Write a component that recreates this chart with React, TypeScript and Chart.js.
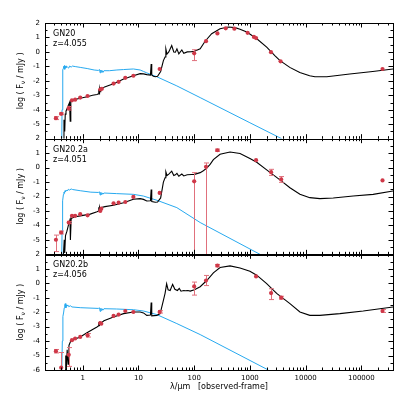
import React, { useEffect, useRef } from "react";
import { Chart, registerables } from "chart.js";

Chart.register(...registerables);

type Pt = [number, number];
type Phot = [number, number, number, number]; // [lambda um, log F, errLo, errHi]

// ---------- axis ranges ----------
const X_MIN = 0.21;
const X_MAX = 3.7e5;
const Y_MIN = -6;
const Y_MAX = 2;
const xMajorTicks = [1, 10, 100, 1000, 10000, 100000];
const yMajorTicks = [-6, -5, -4, -3, -2, -1, 0, 1, 2];

// ---------- labels ----------
const panelNames = ["GN20", "GN20.2a", "GN20.2b"];
const panelRedshifts = ["z=4.055", "z=4.051", "z=4.056"];
const yTitleParts = ["log ( F", "\u03BD", " / mJy )"]; // text, subscript, text
const xTitle = "\u03BB/\u00B5m   [observed-frame]";

// ---------- best-fit total models (black) ----------
const gn20Model: Pt[] = [
  [0.45, -6.0], [0.46, -4.7], [0.475, -5.5], [0.485, -4.3], [0.5, -4.1], [0.52, -3.95], [0.55, -3.7],
  [0.58, -3.5], [0.595, -4.8], [0.61, -3.4], [0.66, -3.33], [0.75, -3.28], [0.9, -3.2], [1.2, -3.1],
  [1.5, -3.0], [1.8, -2.95], [1.92, -2.9], [1.94, -2.6], [1.97, -2.9], [2.0, -2.55], [2.05, -2.75],
  [2.1, -2.5], [2.4, -2.45], [3.0, -2.3], [3.6, -2.2], [5.4, -1.88], [8.1, -1.65], [10.7, -1.5],
  [12.3, -1.52], [14.1, -1.57], [16.4, -1.6], [16.9, -0.83], [17.3, -1.6], [18.5, -1.68], [20, -1.72],
  [22, -1.68], [25, -1.35], [28, -0.6], [30, -0.35], [31, 0.21], [32.5, -0.15], [35, 0.0], [39.5, 0.44],
  [43, 0.0], [46, -0.02], [49, 0.21], [53, -0.14], [60, 0.14], [65, -0.09], [75, 0.0], [90, 0.02],
  [101, 0.05], [128, 0.21], [157, 0.74], [206, 1.26], [291, 1.6], [410, 1.72], [540, 1.68], [665, 1.57],
  [880, 1.37], [1330, 0.91], [2000, 0.33], [2800, -0.25], [3470, -0.6], [5200, -1.07], [7860, -1.42],
  [11800, -1.65], [14700, -1.72], [24000, -1.72], [62000, -1.53], [160000, -1.35], [370000, -1.18],
];
const gn20aModel: Pt[] = [
  [0.45, -6.0], [0.465, -5.0], [0.475, -5.9], [0.49, -4.7], [0.52, -4.4], [0.56, -3.9], [0.59, -3.6],
  [0.6, -5.0], [0.62, -3.53], [0.7, -3.42], [0.9, -3.34], [1.36, -3.22], [1.8, -3.05], [1.92, -3.0],
  [1.94, -2.75], [1.97, -3.0], [2.0, -2.75], [2.05, -2.9], [2.1, -2.77], [2.5, -2.7], [3.56, -2.6],
  [5.4, -2.43], [8.1, -2.19], [10.7, -2.15], [12.3, -2.2], [14.1, -2.31], [16.4, -2.3], [16.9, -1.51],
  [17.3, -2.35], [20, -2.4], [22, -2.38], [25, -2.1], [28, -1.0], [30, -0.7], [31, -0.3], [32.5, -0.55],
  [35, -0.45], [39.5, -0.25], [43, -0.55], [46, -0.5], [49, -0.4], [53, -0.6], [60, -0.45], [65, -0.58],
  [75, -0.5], [90, -0.48], [101, -0.47], [128, -0.35], [146, -0.22], [168, -0.04], [193, 0.22],
  [221, 0.55], [291, 0.92], [440, 1.08], [665, 0.97], [1000, 0.63], [1325, 0.37], [2000, -0.16],
  [3460, -0.85], [5230, -1.39], [7900, -1.85], [11900, -2.08], [18000, -2.15], [31300, -2.1],
  [71300, -1.97], [163000, -1.85], [370000, -1.62],
];
const gn20bModel: Pt[] = [
  [0.48, -6.0], [0.495, -5.0], [0.505, -6.0], [0.525, -4.6], [0.545, -5.6], [0.565, -4.3], [0.6, -4.05],
  [0.64, -3.94], [0.9, -3.71], [1.19, -3.43], [1.5, -3.2], [1.8, -3.02], [1.92, -2.95], [1.94, -2.7],
  [1.97, -2.92], [2.0, -2.72], [2.06, -2.8], [2.4, -2.6], [3.56, -2.33], [5.4, -2.1], [8.1, -1.99],
  [10.7, -1.99], [12.3, -2.05], [14.1, -2.22], [16.4, -2.2], [16.9, -1.34], [17.3, -2.25], [21.4, -2.22],
  [24.5, -2.1], [28, -1.18], [30, -0.7], [32, -0.04], [34, -0.45], [37, -0.5], [41, -0.08], [45, -0.42],
  [50, -0.5], [54, -0.36], [58, -0.55], [65, -0.5], [69, -0.52], [77, -0.5], [85, -0.54], [101, -0.45],
  [128, -0.24], [168, 0.19], [221, 0.72], [291, 1.09], [440, 1.2], [665, 1.06], [1000, 0.83],
  [1325, 0.56], [2000, -0.02], [3020, -0.7], [5230, -1.41], [7900, -1.99], [11900, -2.22],
  [18000, -2.22], [41200, -2.1], [108000, -1.92], [370000, -1.64],
];

// ---------- unattenuated stellar templates (blue) ----------
const gn20Stellar: Pt[] = [
  [0.42, -6.0], [0.425, -4.0], [0.435, -1.6], [0.44, -1.25], [0.445, -1.15], [0.45, -1.0], [0.46, -1.1],
  [0.47, -0.95], [0.475, -1.2], [0.49, -1.0], [0.5, -1.1], [0.51, -0.98], [0.53, -1.04], [0.56, -1.12],
  [0.58, -0.98], [0.62, -1.05], [0.65, -0.98], [0.75, -1.02], [0.9, -1.07], [1.2, -1.15], [1.6, -1.25],
  [1.9, -1.28], [2.0, -1.22], [2.05, -1.45], [2.1, -1.25], [2.15, -1.4], [2.2, -1.27], [2.3, -1.42],
  [2.4, -1.3], [3.0, -1.3], [4.1, -1.25], [5.4, -1.22], [8.1, -1.18], [10.7, -1.25], [12.3, -1.35],
  [14.1, -1.45], [21.4, -1.72], [48.8, -2.35], [128, -3.16], [1000, -4.9], [3700, -6.0],
];
const gn20aStellar: Pt[] = [
  [0.42, -6.0], [0.425, -4.5], [0.435, -2.3], [0.45, -1.85], [0.46, -1.7], [0.47, -1.78], [0.48, -1.6],
  [0.49, -1.68], [0.51, -1.55], [0.53, -1.62], [0.55, -1.5], [0.58, -1.55], [0.62, -1.48],
  [0.66, -1.52], [0.9, -1.6], [1.4, -1.7], [1.9, -1.72], [2.0, -1.68], [2.05, -1.9], [2.1, -1.72],
  [2.15, -1.86], [2.2, -1.74], [2.3, -1.84], [2.4, -1.76], [4, -1.8], [8.1, -1.85], [12.3, -1.97],
  [21.4, -2.26], [48.8, -2.77], [128, -3.8], [1517, -6.0],
];
const gn20bStellar: Pt[] = [
  [0.42, -6.0], [0.43, -4.0], [0.44, -2.3], [0.455, -1.99], [0.465, -1.7], [0.475, -1.5], [0.485, -1.41],
  [0.495, -1.55], [0.5, -1.7], [0.51, -1.5], [0.52, -1.58], [0.54, -1.5], [0.56, -1.62], [0.6, -1.56],
  [0.64, -1.64], [0.9, -1.69], [1.9, -1.74], [2.0, -1.7], [2.05, -1.95], [2.1, -1.74], [2.15, -1.88],
  [2.2, -1.75], [2.3, -1.86], [2.4, -1.76], [4, -1.78], [8.1, -1.83], [12.3, -1.92], [21.4, -2.17],
  [48.8, -2.79], [128, -3.55], [2140, -6.0],
];

// ---------- photometry (red) ----------
const gn20Phot: Phot[] = [
  [0.33, -4.58, 0.1, 0.1], [0.41, -4.28, 0.06, 0.06], [0.56, -3.9, 0.12, 0.12], [0.64, -3.35, 0, 0],
  [0.73, -3.3, 0, 0], [0.9, -3.16, 0, 0], [1.22, -3.05, 0, 0], [2.06, -2.6, 0, 0], [2.2, -2.55, 0, 0],
  [3.57, -2.19, 0, 0], [4.4, -2.07, 0, 0], [5.8, -1.79, 0, 0], [8.1, -1.65, 0, 0], [24, -1.18, 0, 0],
  [100, -0.1, 0.5, 0.25], [163, 0.74, 0, 0], [261, 1.28, 0, 0], [368, 1.63, 0, 0], [526, 1.61, 0, 0],
  [910, 1.32, 0, 0], [1180, 1.04, 0, 0], [1290, 0.96, 0, 0], [2390, -0.02, 0, 0], [3550, -0.65, 0, 0],
  [240000, -1.18, 0, 0],
];
const gn20aPhot: Phot[] = [
  [0.33, -4.99, 0.82, 0.32], [0.41, -4.49, 0.1, 0.1], [0.56, -3.8, 0.08, 0.08], [0.64, -3.34, 0, 0],
  [0.73, -3.34, 0, 0], [0.9, -3.22, 0, 0], [1.22, -3.3, 0, 0], [2.06, -3.0, 0, 0], [2.15, -2.84, 0, 0],
  [3.57, -2.47, 0, 0], [4.4, -2.43, 0, 0], [5.8, -2.38, 0, 0], [8.1, -2.03, 0, 0], [24, -1.75, 0, 0],
  [100, -0.95, 5.2, 0.6], [163, 0.05, 6.2, 0.27], [261, 1.2, 0.08, 0.08], [1290, 0.51, 0, 0],
  [2400, -0.32, 0.22, 0.2], [3640, -0.82, 0.2, 0.2], [240000, -0.89, 0, 0],
];
const gn20bPhot: Phot[] = [
  [0.33, -4.7, 0.12, 0.12], [0.41, -5.84, 0.3, 1.05], [0.56, -4.95, 0.8, 0.5], [0.64, -3.94, 0, 0],
  [0.73, -3.82, 0, 0], [0.9, -3.71, 0, 0], [1.22, -3.6, 0.12, 0.12], [2.06, -2.75, 0, 0],
  [2.15, -2.8, 0, 0], [3.57, -2.26, 0, 0], [4.4, -2.17, 0, 0], [5.8, -1.92, 0, 0], [8.1, -1.99, 0, 0],
  [24, -1.98, 0.08, 0.08], [100, -0.22, 0.6, 0.3], [163, 0.19, 0.35, 0.35], [261, 1.22, 0.08, 0.08],
  [1290, 0.47, 0, 0], [2400, -0.68, 0.45, 0.3], [3640, -1.0, 0.1, 0.1], [240000, -1.92, 0.1, 0.1],
];

const panelIds = ["y1", "y2", "y3"];
const models = [gn20Model, gn20aModel, gn20bModel];
const stellars = [gn20Stellar, gn20aStellar, gn20bStellar];
const phots = [gn20Phot, gn20aPhot, gn20bPhot];

const BLUE = "#27a9ef";
const RED = "#cf3848";
const ERR_RED = "#e0707c";
const FONT = "'DejaVu Sans', sans-serif";

const sedPlugin = {
  id: "sedPanels",
  beforeDatasetDraw(chart: any, args: any) {
    const { ctx, chartArea } = chart;
    const ys = args.meta.yScale;
    ctx.save();
    ctx.beginPath();
    ctx.rect(chartArea.left, ys.top, chartArea.right - chartArea.left, ys.bottom - ys.top);
    ctx.clip();
    const ds = chart.data.datasets[args.index];
    if (ds.errLo) {
      const xs = args.meta.xScale;
      ctx.strokeStyle = ERR_RED;
      ctx.lineWidth = 1;
      ds.data.forEach((p: any, i: number) => {
        const lo = ds.errLo[i];
        const hi = ds.errHi[i];
        if (!lo && !hi) return;
        const px = Math.round(xs.getPixelForValue(p.x)) + 0.5;
        const yT = ys.getPixelForValue(p.y + hi);
        const yB = ys.getPixelForValue(p.y - lo);
        ctx.beginPath();
        ctx.moveTo(px, yT);
        ctx.lineTo(px, yB);
        ctx.moveTo(px - 2.5, yT);
        ctx.lineTo(px + 2.5, yT);
        ctx.moveTo(px - 2.5, yB);
        ctx.lineTo(px + 2.5, yB);
        ctx.stroke();
      });
    }
  },
  afterDatasetDraw(chart: any) {
    chart.ctx.restore();
  },
  afterDraw(chart: any) {
    const { ctx, chartArea } = chart;
    const xs = chart.scales.x;
    const L = chartArea.left;
    const R = chartArea.right;
    ctx.save();
    ctx.strokeStyle = "#000";
    ctx.lineWidth = 1;
    panelIds.forEach((id, k) => {
      const ys = chart.scales[id];
      const T = ys.top;
      const B = ys.bottom;
      ctx.strokeRect(Math.round(L) + 0.5, Math.round(T) + 0.5, Math.round(R - L), Math.round(B - T));
      ctx.beginPath();
      for (let e = -1; e <= 5; e++) {
        for (let m = 1; m <= 9; m++) {
          const v = m * Math.pow(10, e);
          if (v <= X_MIN || v >= X_MAX) continue;
          const px = Math.round(xs.getPixelForValue(v)) + 0.5;
          const len = m === 1 ? 4.5 : 2.5;
          ctx.moveTo(px, B);
          ctx.lineTo(px, B - len);
          ctx.moveTo(px, T);
          ctx.lineTo(px, T + len);
        }
      }
      for (let v = Y_MIN + 0.5; v < Y_MAX; v += 0.5) {
        const py = Math.round(ys.getPixelForValue(v)) + 0.5;
        const len = Number.isInteger(v) ? 4.5 : 2.5;
        ctx.moveTo(L, py);
        ctx.lineTo(L + len, py);
        ctx.moveTo(R, py);
        ctx.lineTo(R - len, py);
      }
      ctx.stroke();
      ctx.fillStyle = "#000";
      ctx.font = "8px " + FONT;
      ctx.textAlign = "left";
      ctx.textBaseline = "middle";
      ctx.fillText(panelNames[k], L + 8, ys.getPixelForValue(1.25));
      ctx.fillText(panelRedshifts[k], L + 8, ys.getPixelForValue(0.55));

      // y-axis title with subscript nu
      const big = "8px " + FONT;
      const small = "6px " + FONT;
      ctx.font = big;
      const w0 = ctx.measureText(yTitleParts[0]).width;
      const w2 = ctx.measureText(yTitleParts[2]).width;
      ctx.font = small;
      const w1 = ctx.measureText(yTitleParts[1]).width;
      const total = w0 + w1 + w2;
      ctx.save();
      ctx.translate(21, (T + B) / 2);
      ctx.rotate(-Math.PI / 2);
      ctx.textBaseline = "middle";
      let cx = -total / 2;
      ctx.font = big;
      ctx.fillText(yTitleParts[0], cx, 0);
      cx += w0;
      ctx.font = small;
      ctx.fillText(yTitleParts[1], cx, 2);
      cx += w1;
      ctx.font = big;
      ctx.fillText(yTitleParts[2], cx, 0);
      ctx.restore();
    });
    ctx.restore();
  },
};

export default function App() {
  const ref = useRef<HTMLCanvasElement>(null);
  useEffect(() => {
    if (!ref.current) return;
    const datasets: any[] = [];
    panelIds.forEach((id, k) => {
      datasets.push({
        data: phots[k].map(([x, y]) => ({ x, y })),
        errLo: phots[k].map((p) => p[2]),
        errHi: phots[k].map((p) => p[3]),
        yAxisID: id,
        showLine: false,
        pointRadius: 2.1,
        pointBackgroundColor: RED,
        pointBorderWidth: 0,
        order: 0,
      });
      datasets.push({
        data: models[k].map(([x, y]) => ({ x, y })),
        yAxisID: id,
        borderColor: "#000",
        borderWidth: 1.1,
        pointRadius: 0,
        order: 1,
      });
      datasets.push({
        data: stellars[k].map(([x, y]) => ({ x, y })),
        yAxisID: id,
        borderColor: BLUE,
        borderWidth: 1,
        pointRadius: 0,
        order: 2,
      });
    });

    const yScale = (k: number) => ({
      type: "linear",
      min: Y_MIN,
      max: Y_MAX,
      position: "left",
      stack: "sed",
      stackWeight: 1,
      offset: false,
      grid: { display: false, drawTicks: false },
      border: { display: false },
      afterBuildTicks: (s: any) => {
        s.ticks = yMajorTicks.map((v) => ({ value: v }));
      },
      afterFit: (s: any) => {
        s.width = 45;
      },
      ticks: {
        padding: 5,
        autoSkip: false,
        color: "#000",
        font: { size: 7, family: FONT },
        callback: (v: any) => (k < 2 && Number(v) === Y_MIN ? "" : String(v)),
      },
      title: { display: false },
    });

    const scales: any = {
      x: {
        type: "logarithmic",
        min: X_MIN,
        max: X_MAX,
        position: "bottom",
        grid: { display: false, drawTicks: false },
        border: { display: false },
        afterBuildTicks: (s: any) => {
          s.ticks = xMajorTicks.map((v) => ({ value: v }));
        },
        afterFit: (s: any) => {
          s.height = 45;
        },
        ticks: {
          padding: 4,
          autoSkip: false,
          maxRotation: 0,
          color: "#000",
          font: { size: 7, family: FONT },
          callback: (v: any) => String(v),
        },
        title: {
          display: true,
          text: xTitle,
          color: "#000",
          font: { size: 8, family: FONT },
          padding: { top: 0, bottom: 23 },
        },
      },
    };
    // stacked left axes are laid out in reverse creation order, so create the bottom panel first
    [...panelIds].reverse().forEach((id) => {
      const k = panelIds.indexOf(id);
      scales[id] = yScale(k);
    });

    const chart = new Chart(ref.current, {
      type: "line",
      data: { datasets },
      options: {
        animation: false,
        responsive: false,
        devicePixelRatio: 1,
        layout: { padding: { top: 23, right: 22, left: 0, bottom: 0 } },
        elements: { line: { tension: 0 } },
        plugins: { legend: { display: false }, tooltip: { enabled: false } },
        scales,
      },
      plugins: [sedPlugin],
    } as any);
    return () => chart.destroy();
  }, []);

  return (
    <div style={{ position: "absolute", left: 0, top: 0, width: 415, height: 415, background: "#fff" }}>
      <canvas ref={ref} width={415} height={415} style={{ display: "block" }} />
    </div>
  );
}
